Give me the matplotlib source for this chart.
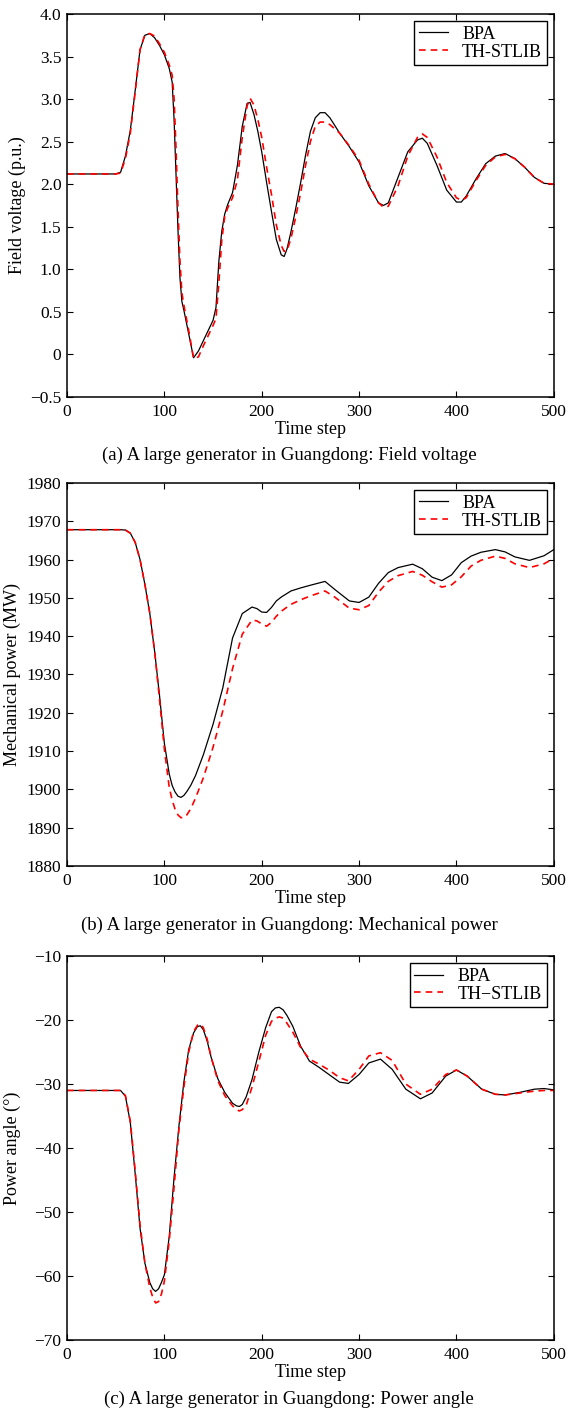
import matplotlib
matplotlib.use("Agg")
import matplotlib.pyplot as plt

plt.rcParams["font.family"] = ["Liberation Serif", "DejaVu Serif"]
plt.rcParams["font.size"] = 12.5

# (a) field voltage
t_a = [0, 50, 55, 60, 65, 70, 75, 80, 85, 90, 95, 100, 105, 108, 110, 112, 114, 116, 118, 120,
       125, 130, 135, 140, 145, 150, 153, 156, 159, 162, 165, 170, 175, 180, 185, 188, 192, 196,
       200, 205, 210, 215, 220, 223, 226, 230, 235, 240, 245, 250, 255, 260, 265, 270, 280, 290,
       300, 310, 320, 325, 330, 340, 350, 360, 365, 370, 380, 390, 400, 405, 410, 420, 430, 440,
       450, 460, 470, 480, 490, 500]
bpa_a = [2.12, 2.12, 2.14, 2.33, 2.63, 3.10, 3.58, 3.75, 3.77, 3.72, 3.63, 3.52, 3.36, 3.20, 2.75,
         2.10, 1.45, 0.90, 0.62, 0.52, 0.24, -0.04, 0.04, 0.16, 0.28, 0.40, 0.55, 1.10, 1.45, 1.65,
         1.76, 1.90, 2.22, 2.68, 2.95, 2.96, 2.82, 2.62, 2.38, 2.02, 1.68, 1.35, 1.17, 1.15, 1.24,
         1.44, 1.72, 2.02, 2.34, 2.62, 2.78, 2.84, 2.84, 2.78, 2.60, 2.44, 2.26, 1.98, 1.78, 1.75,
         1.78, 2.08, 2.38, 2.52, 2.54, 2.48, 2.22, 1.93, 1.79, 1.79, 1.86, 2.06, 2.24, 2.33, 2.36,
         2.30, 2.20, 2.08, 2.01, 2.00]
th_a = [2.12, 2.12, 2.13, 2.30, 2.60, 3.08, 3.58, 3.76, 3.77, 3.74, 3.65, 3.55, 3.40, 3.28, 3.00,
        2.40, 1.70, 1.10, 0.72, 0.58, 0.28, -0.05, -0.03, 0.10, 0.22, 0.34, 0.42, 0.85, 1.35, 1.62,
        1.72, 1.84, 2.05, 2.55, 2.92, 3.01, 2.93, 2.76, 2.55, 2.20, 1.88, 1.52, 1.28, 1.21, 1.22,
        1.36, 1.62, 1.90, 2.22, 2.50, 2.68, 2.73, 2.73, 2.70, 2.60, 2.45, 2.28, 2.00, 1.78, 1.73,
        1.74, 1.98, 2.33, 2.55, 2.59, 2.55, 2.32, 2.02, 1.84, 1.81, 1.84, 2.04, 2.22, 2.32, 2.35,
        2.30, 2.20, 2.08, 2.01, 2.00]

# (b) mechanical power
t_b = [0, 55, 60, 65, 70, 75, 80, 85, 90, 95, 100, 105, 108, 111, 114, 117, 120, 123, 127, 132,
       140, 150, 160, 170, 180, 190, 195, 200, 205, 210, 215, 220, 230, 240, 250, 265, 275, 290,
       300, 310, 320, 330, 340, 355, 365, 375, 385, 395, 405, 415, 425, 440, 450, 460, 475, 490, 500]
bpa_b = [1967.8, 1967.8, 1967.7, 1966.9, 1964.5, 1960.0, 1953.5, 1946.0, 1936.0, 1924.5, 1912.0,
         1904.0, 1901.0, 1899.3, 1898.2, 1897.9, 1898.4, 1899.4, 1901.0, 1903.6,
         1909.0, 1917.0, 1926.5, 1939.5, 1945.9, 1947.6, 1947.2, 1946.3, 1946.2, 1947.5, 1949.2,
         1950.2, 1951.8, 1952.6, 1953.3, 1954.3, 1952.2, 1949.2, 1948.8, 1950.2, 1953.8, 1956.6,
         1957.9, 1958.8, 1957.6, 1955.4, 1954.5, 1956.0, 1959.2, 1960.9, 1961.9, 1962.6, 1962.0,
         1960.7, 1959.8, 1961.0, 1962.6]
th_b = [1967.8, 1967.8, 1967.7, 1966.9, 1964.5, 1960.0, 1953.5, 1946.0, 1936.0, 1923.5, 1910.5,
        1900.5, 1897.2, 1894.8, 1893.3, 1892.6, 1892.6, 1893.3, 1894.9, 1897.7,
        1903.0, 1911.0, 1920.5, 1931.5, 1940.5, 1944.2, 1944.0, 1943.2, 1942.6, 1943.6, 1945.2,
        1946.5, 1948.3, 1949.5, 1950.5, 1951.8, 1950.2, 1947.3, 1946.9, 1948.0, 1951.5, 1954.3,
        1955.8, 1956.9, 1955.9, 1954.2, 1952.8, 1953.4, 1955.5, 1958.3, 1959.8, 1960.9, 1960.3,
        1958.9, 1957.9, 1958.9, 1960.3]

# (c) power angle
t_c = [0, 55, 60, 65, 70, 75, 80, 85, 88, 91, 94, 97, 100, 105, 110, 115, 120, 125, 130, 134, 137,
       140, 144, 148, 155, 162, 170, 174, 177, 180, 184, 190, 197, 204, 210, 214, 218, 222, 226,
       232, 240, 249, 259, 269, 280, 289, 300, 310, 322, 334, 348, 363, 375, 389, 400, 411, 426,
       440, 450, 465, 480, 490, 500]
bpa_c = [-31.0, -31.0, -31.9, -36.0, -44.0, -52.5, -58.0, -61.0, -62.0, -62.4, -62.0, -61.0, -59.8,
         -53.8, -44.5, -36.5, -29.7, -24.6, -22.0, -21.0, -20.9, -21.5, -23.3, -25.8, -29.2, -31.3,
         -33.0, -33.4, -33.5, -33.2, -32.0, -29.3, -25.0, -21.2, -18.7, -18.1, -18.0, -18.4, -19.3,
         -21.0, -24.1, -26.4, -27.4, -28.5, -29.7, -29.9, -28.5, -26.7, -26.1, -27.7, -30.8, -32.3,
         -31.4, -28.75, -27.8, -28.75, -30.8, -31.6, -31.7, -31.3, -30.8, -30.7, -30.9]
th_c = [-31.0, -31.0, -31.8, -35.8, -43.5, -52.0, -58.0, -61.8, -63.3, -64.2, -64.0, -62.8, -60.8,
        -54.5, -46.0, -37.0, -30.5, -25.0, -21.8, -20.8, -20.6, -21.2, -23.0, -25.8, -29.5, -31.8,
        -33.4, -34.0, -34.2, -34.0, -33.3, -30.5, -26.5, -22.4, -20.2, -19.7, -19.5, -19.7, -20.5,
        -21.9, -24.3, -26.1, -26.9, -27.8, -29.0, -29.5, -27.7, -25.6, -25.1, -26.3, -30.0, -31.6,
        -30.8, -28.5, -27.8, -28.75, -30.8, -31.6, -31.7, -31.4, -31.1, -31.0, -31.0]

yticks_a = [-0.5, 0, 0.5, 1.0, 1.5, 2.0, 2.5, 3.0, 3.5, 4.0]
yticklabels_a = ["\u22120.5", "0", "0.5", "1.0", "1.5", "2.0", "2.5", "3.0", "3.5", "4.0"]
yticks_b = [1880, 1890, 1900, 1910, 1920, 1930, 1940, 1950, 1960, 1970, 1980]
yticks_c = [-70, -60, -50, -40, -30, -20, -10]
xticks = [0, 100, 200, 300, 400, 500]

panels = [
    (t_a, bpa_a, th_a, yticks_a, yticklabels_a, "Field voltage (p.u.)", "TH-STLIB",
     "(a) A large generator in Guangdong: Field voltage", 0.7187, 0.2714, -0.084, 0.6775),
    (t_b, bpa_b, th_b, yticks_b, [str(v) for v in yticks_b], "Mechanical power (MW)", "TH-STLIB",
     "(b) A large generator in Guangdong: Mechanical power", 0.3863, 0.2714, -0.094, 0.3444),
    (t_c, bpa_c, th_c, yticks_c, ["\u2212%d" % -v for v in yticks_c], "Power angle (\u00b0)", "TH\u2212STLIB",
     "(c) A large generator in Guangdong: Power angle", 0.0503, 0.2721, -0.094, 0.0085),
]

fig = plt.figure(figsize=(5.68, 14.11), dpi=100)
for t, bpa, th, yt, ytl, ylab, thlab, cap, bot, h, ylx, capy in panels:
    ax = fig.add_axes([0.118, bot, 0.857, h])
    ax.plot(t, bpa, color="black", lw=0.9, label="BPA")
    ax.plot(t, th, color="#ff0000", lw=1.2, dashes=(4, 3), label=thlab)
    ax.set_xlim(0, 500)
    ax.set_ylim(yt[0], yt[-1])
    ax.set_xticks(xticks)
    ax.set_yticks(yt)
    ax.set_yticklabels(ytl)
    ax.tick_params(direction="in", top=True, right=True, length=4, width=0.8, labelsize=12.5)
    ax.tick_params(axis="x", pad=5)
    ax.tick_params(axis="y", pad=4)
    for s in ax.spines.values():
        s.set_linewidth(1.1)
    ax.set_xlabel("Time step", fontsize=13)
    ax.xaxis.set_label_coords(0.5, -0.062)
    ax.set_ylabel(ylab, fontsize=13)
    ax.yaxis.set_label_coords(ylx, 0.5)
    leg = ax.legend(loc="upper right", fontsize=13, fancybox=False, framealpha=1,
                    edgecolor="black", handlelength=1.6, labelspacing=0.05,
                    borderaxespad=0.4, borderpad=0.25, handletextpad=0.8)
    leg.get_frame().set_linewidth(1.0)
    fig.text(0.509, capy, cap, ha="center", va="center", fontsize=13.5)

plt.savefig("out.png", dpi=100)
plt.close()
